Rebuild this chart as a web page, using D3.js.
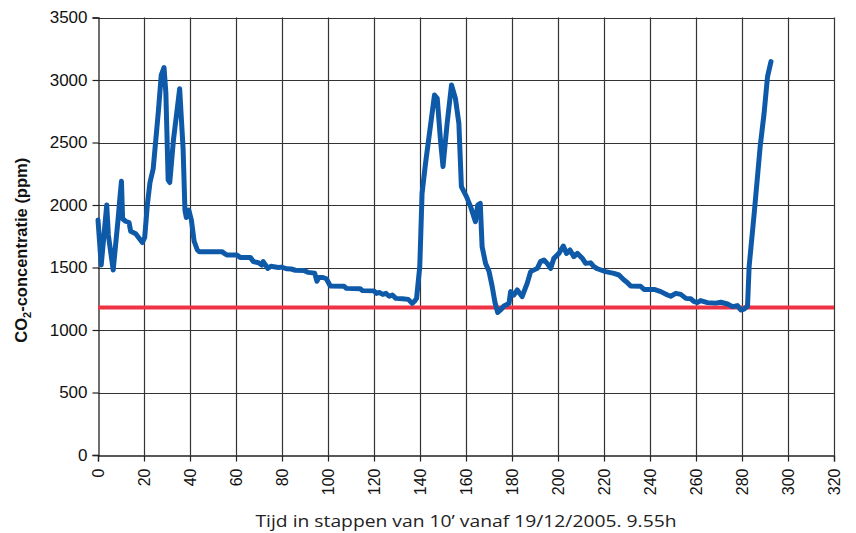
<!DOCTYPE html>
<html>
<head>
<meta charset="utf-8">
<script src="https://cdn.jsdelivr.net/npm/d3@7/dist/d3.min.js"></script>
<style>
  html, body { margin: 0; padding: 0; background: #fff; }
  svg { display: block; }
</style>
</head>
<body>
<svg id="chart" width="856" height="533"></svg>
<script>
// Time step index (1 step = 10 minutes) and measured CO2 concentration (ppm)
const steps = [
  0, 1.4, 3.8, 4.5, 6.6, 8.7, 9.5, 10.2, 10.7, 12, 13.5, 14.2, 16.4, 19.3, 20.3,
  21.5, 22.6, 24, 26.3, 27.5, 28.7, 29.5, 30.5, 31.2, 32.8, 35.5, 37, 37.8, 38.4,
  39.5, 40.6, 41.8, 43.2, 44, 54, 54.6, 56, 60.4, 61.8, 66.2, 67.6, 69.8, 71.2,
  71.8, 73.2, 73.8, 75.2, 78.4, 79.8, 81.9, 84, 85.8, 89.5, 91.4, 94.2, 95.2, 96,
  97.8, 99.3, 101, 107, 108, 114, 115, 120, 121, 122.3, 123.8, 125.2, 126.6, 128,
  129.5, 132.4, 134.9, 136.6, 137.6, 138.5, 139.9, 140.9, 142.4, 144.5, 146.3,
  147.5, 148.9, 150, 151.8, 153.7, 155.4, 156.9, 158, 160.2, 162, 164.1, 165.1,
  166.2, 167, 168.5, 170, 171.4, 172.6, 173.8, 175, 176.5, 178.7, 179.4, 180.8,
  182.3, 184.4, 186.6, 188.1, 191, 192.4, 193.9, 195.3, 196.8, 198.2, 200.4,
  202.3, 203.7, 205.2, 206.9, 208.4, 210.6, 212, 214.2, 215.6, 217.1, 220.7,
  224.3, 226.5, 228.7, 230.1, 231.6, 235.9, 237.4, 241.8, 244.7, 247.6, 249,
  251.2, 253.4, 255.6, 257.7, 259.2, 260.7, 262, 265, 268.6, 270.8, 273.7, 275.9,
  278, 279.5, 280.9, 282.4, 283.1, 285.3, 287.9, 289.6, 291.1, 292.6
];
const co2 = [
  1880, 1520, 2000, 1760, 1480, 1880, 2050, 2190, 1890, 1870, 1860, 1790, 1770, 1700, 1740,
  2010, 2180, 2290, 2760, 3040, 3100, 2900, 2200, 2180, 2520, 2930, 2450, 1960, 1900,
  1960, 1880, 1710, 1640, 1627, 1627, 1617, 1600, 1600, 1581, 1581, 1547, 1538, 1520,
  1547, 1510, 1493, 1510, 1500, 1503, 1490, 1488, 1478, 1476, 1461, 1455, 1390, 1420,
  1420, 1410, 1352, 1350, 1333, 1330, 1315, 1313, 1293, 1300, 1285, 1293, 1270, 1280,
  1253, 1250, 1245, 1213, 1230, 1253, 1507, 2093, 2333, 2627, 2880,
  2853, 2520, 2307, 2653, 2960, 2853, 2653, 2147, 2067, 1987, 1867, 2000,
  2013, 1667, 1533, 1470, 1347, 1220, 1140, 1160, 1192, 1213, 1307, 1280,
  1320, 1267, 1373, 1467, 1493, 1547, 1560, 1533, 1493, 1573, 1613,
  1672, 1613, 1640, 1587, 1613, 1573, 1533, 1537, 1507, 1490, 1467,
  1453, 1440, 1400, 1380, 1352, 1350, 1325, 1325, 1307, 1280, 1270,
  1293, 1285, 1253, 1250, 1227, 1220, 1235, 1219, 1215, 1222, 1208, 1187,
  1195, 1160, 1168, 1190, 1507, 1933, 2467, 2733, 3027, 3147
];
// Reference level (ppm)
const threshold = [1180];

// Axis ticks
const xTicks = [0, 20, 40, 60, 80, 100, 120, 140, 160, 180, 200, 220, 240, 260, 280, 300, 320];
const yTicks = [0, 500, 1000, 1500, 2000, 2500, 3000, 3500];

const xTitle = "Tijd in stappen van 10\u2019 vanaf 19/12/2005. 9.55h";

const W = 856, H = 533;
const margin = { top: 17.5, right: 22, bottom: 78, left: 98 };

const svg = d3.select("#chart");
const x = d3.scaleLinear().domain([0, 320]).range([margin.left, W - margin.right]);
const y = d3.scaleLinear().domain([0, 3500]).range([H - margin.bottom, margin.top]);

// Grid
const grid = svg.append("g").attr("class", "grid");
grid.selectAll("line.v").data(xTicks.slice(1)).join("line")
  .attr("class", "v")
  .attr("x1", d => Math.round(x(d)) + 0.5).attr("x2", d => Math.round(x(d)) + 0.5)
  .attr("y1", y(3500)).attr("y2", y(0))
  .attr("stroke", "#333").attr("stroke-width", 1.2);
grid.selectAll("line.h").data(yTicks.slice(1)).join("line")
  .attr("class", "h")
  .attr("x1", x(0)).attr("x2", x(320))
  .attr("y1", d => Math.round(y(d)) + 0.5).attr("y2", d => Math.round(y(d)) + 0.5)
  .attr("stroke", "#333").attr("stroke-width", 1.2);

// Axes
const xAxis = d3.axisBottom(x).tickValues(xTicks).tickSize(6).tickPadding(4).tickFormat(d3.format("d"));
const yAxis = d3.axisLeft(y).tickValues(yTicks).tickSize(6).tickPadding(5).tickFormat(d3.format("d"));

const gx = svg.append("g")
  .attr("transform", `translate(0,${Math.round(y(0)) + 0.5})`)
  .call(xAxis);
gx.select(".domain").attr("stroke", "#222").attr("stroke-width", 1.3);
gx.selectAll(".tick line").attr("stroke", "#222").attr("stroke-width", 1.2);
gx.selectAll(".tick text")
  .attr("font-family", "Liberation Sans, Arial, sans-serif")
  .attr("font-size", 16)
  .attr("fill", "#111")
  .attr("text-anchor", "end")
  .attr("dy", "0.35em")
  .attr("transform", "translate(0,13) rotate(-90)")
  .attr("x", 0).attr("y", 0);

const gy = svg.append("g")
  .attr("transform", `translate(${Math.round(x(0)) + 0.5},0)`)
  .call(yAxis);
gy.select(".domain").attr("stroke", "#222").attr("stroke-width", 1.3);
gy.selectAll(".tick line").attr("stroke", "#222").attr("stroke-width", 1.2);
gy.selectAll(".tick text")
  .attr("font-family", "Liberation Sans, Arial, sans-serif")
  .attr("font-size", 17)
  .attr("fill", "#111");

// Reference level line
svg.append("g").selectAll("line").data(threshold).join("line")
  .attr("x1", x(0)).attr("x2", x(320))
  .attr("y1", d => y(d)).attr("y2", d => y(d))
  .attr("stroke", "#ee3444").attr("stroke-width", 4.2);

// CO2 series
const series = steps.map((s, i) => [s, co2[i]]);
svg.append("path")
  .datum(series)
  .attr("fill", "none")
  .attr("stroke", "#0f5aa8")
  .attr("stroke-width", 5)
  .attr("stroke-linejoin", "round")
  .attr("stroke-linecap", "round")
  .attr("d", d3.line().x(d => x(d[0])).y(d => y(d[1])));

// Axis titles
const yt = svg.append("text")
  .attr("transform", `translate(27,${(y(0) + y(3500)) / 2 + 14}) rotate(-90)`)
  .attr("text-anchor", "middle")
  .attr("font-family", "Liberation Sans, Arial, sans-serif")
  .attr("font-weight", "bold")
  .attr("font-size", 16.5)
  .attr("fill", "#111");
yt.append("tspan").text("CO");
yt.append("tspan").attr("font-size", 11).attr("dy", 4).text("2");
yt.append("tspan").attr("dy", -4).text("-concentratie (ppm)");

svg.append("text")
  .attr("x", 466).attr("y", 527)
  .attr("text-anchor", "middle")
  .attr("font-family", "Open Sans, Noto Sans, sans-serif")
  .attr("font-size", 17)
  .attr("fill", "#222")
  .attr("textLength", 421)
  .attr("lengthAdjust", "spacingAndGlyphs")
  .text(xTitle);
</script>
</body>
</html>
